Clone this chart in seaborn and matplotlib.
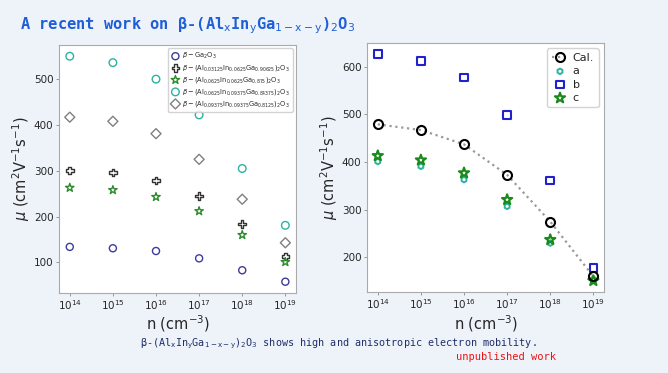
import numpy as np
import pandas as pd
import seaborn as sns
import matplotlib.pyplot as plt
from matplotlib.ticker import NullLocator

# carrier concentration (cm^-3)
n = [1e14, 1e15, 1e16, 1e17, 1e18, 1e19]

# left panel: mobility for different compositions
mu_ga2o3 = [134, 131, 125, 109, 83, 58]
mu_x1 = [301, 296, 279, 245, 184, 113]
mu_x2 = [263, 258, 243, 212, 160, 101]
mu_x3 = [550, 536, 500, 422, 305, 181]
mu_x4 = [417, 408, 381, 325, 238, 143]
left_labels = [
    r'$\beta-\mathrm{Ga_2O_3}$',
    r'$\beta-\mathrm{(Al_{0.03125}In_{0.0625}Ga_{0.90625})_2O_3}$',
    r'$\beta-\mathrm{(Al_{0.0625}In_{0.0625}Ga_{0.875})_2O_3}$',
    r'$\beta-\mathrm{(Al_{0.0625}In_{0.09375}Ga_{0.84375})_2O_3}$',
    r'$\beta-\mathrm{(Al_{0.09375}In_{0.09375}Ga_{0.8125})_2O_3}$',
]

# right panel: calculated mobility and along a, b, c
mu_cal = [479, 467, 437, 373, 275, 160]
mu_a = [401, 391, 363, 307, 230, 154]
mu_b = [626, 612, 577, 498, 361, 178]
mu_c = [413, 404, 377, 321, 237, 151]
right_labels = ['Cal.', 'a', 'b', 'c']

sns.set_style('white')
plt.rcParams['font.family'] = ['DejaVu Sans']

fig = plt.figure(figsize=(6.68, 3.73), dpi=100)
fig.patch.set_facecolor('#eef3fa')

ax1 = fig.add_axes([0.0883, 0.2145, 0.355, 0.665])
ax2 = fig.add_axes([0.5494, 0.217, 0.355, 0.668])

# left panel
left_series = [mu_ga2o3, mu_x1, mu_x2, mu_x3, mu_x4]
left_markers = ['o', 'P', '*', 'o', 'D']
left_colors = ['#3c3c9c', '#333333', '#2e8b2e', '#2bb3a0', '#808080']
left_sizes = [26, 30, 40, 30, 26]
for vals, mk, col, sz, lab in zip(left_series, left_markers, left_colors, left_sizes, left_labels):
    sns.scatterplot(x=n, y=vals, ax=ax1, marker=mk, s=sz, color=col,
                    facecolor='none', edgecolor=col, linewidth=1.0, label=lab)

# right panel
sns.lineplot(x=n, y=mu_cal, ax=ax2, color='#999999', linestyle=':', linewidth=1.6,
             marker='o', markersize=6.5, markerfacecolor='none', markeredgecolor='black',
             markeredgewidth=1.5, label=right_labels[0])
sns.scatterplot(x=n, y=mu_a, ax=ax2, marker='h', s=16, color='#2bb3a0',
                facecolor='none', edgecolor='#2bb3a0', linewidth=1.4, label=right_labels[1])
sns.scatterplot(x=n, y=mu_b, ax=ax2, marker='s', s=30, color='#2222cc',
                facecolor='none', edgecolor='#2222cc', linewidth=1.5, label=right_labels[2])
sns.scatterplot(x=n, y=mu_c, ax=ax2, marker='*', s=60, color='#1a8a1a',
                facecolor='none', edgecolor='#1a8a1a', linewidth=1.5, label=right_labels[3])

for ax in (ax1, ax2):
    ax.set_xscale('log')
    ax.set_xticks(n)
    ax.xaxis.set_minor_locator(NullLocator())
    ax.set_facecolor('white')
    for sp in ax.spines.values():
        sp.set_color('#aaaaaa')
        sp.set_linewidth(0.8)
    ax.tick_params(axis='both', labelsize=7.5, length=2, width=0.6, color='#888888',
                   left=True, bottom=True, pad=2)
    ax.set_xlabel(r'n (cm$^{-3}$)', fontsize=10.5, labelpad=1)
    ax.set_ylabel(r'$\mu$ (cm$^2$V$^{-1}$s$^{-1}$)', fontsize=10.5, labelpad=1)

ax1.set_yticks([100, 200, 300, 400, 500])
ax2.set_yticks([200, 300, 400, 500, 600])

ax1.legend(loc='upper right', fontsize=4.8, frameon=True, framealpha=0.85,
           borderpad=0.4, handletextpad=0.3, labelspacing=0.3, handlelength=1.5)
ax2.legend(loc='upper right', fontsize=8, frameon=True, framealpha=0.85,
           borderpad=0.4, handletextpad=0.4, labelspacing=0.3, handlelength=1.5)

# slide texts
fig.text(0.03, 0.93, r'A recent work on β-(Al$_\mathsf{x}$In$_\mathsf{y}$Ga$_\mathsf{1-x-y}$)$_\mathsf{2}$O$_\mathsf{3}$',
         fontsize=11.1, color='#1f5fd6', family='DejaVu Sans Mono', fontweight='bold',
         va='center', ha='left')
fig.text(0.21, 0.078, r'β-(Al$_\mathsf{x}$In$_\mathsf{y}$Ga$_\mathsf{1-x-y}$)$_\mathsf{2}$O$_\mathsf{3}$ shows high and anisotropic electron mobility.',
         fontsize=7.3, color='#1f2f6a', family='DejaVu Sans Mono', va='center', ha='left')
fig.text(0.683, 0.043, 'unpublished work', fontsize=7.5, color='#ee1111',
         family='DejaVu Sans Mono', va='center', ha='left')

fig.savefig('out.png', dpi=100, facecolor=fig.get_facecolor())
